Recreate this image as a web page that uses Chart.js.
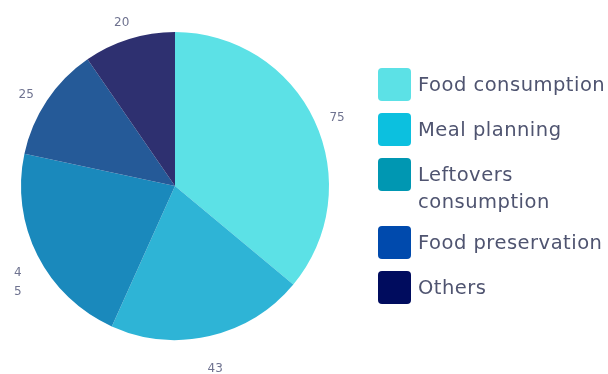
<!DOCTYPE html>
<html>
<head>
<meta charset="utf-8">
<script src="https://cdn.jsdelivr.net/npm/chart.js@4/dist/chart.umd.min.js"></script>
<style>
  html, body { margin: 0; padding: 0; background: #ffffff; }
  #wrap { position: relative; width: 608px; height: 374px; }
</style>
</head>
<body>
<div id="wrap"><canvas id="chart" width="608" height="374"></canvas></div>
<script>
// Share of activities
const categories = ['Food consumption', 'Meal planning', 'Leftovers consumption', 'Food preservation', 'Others'];
const values = [75, 43, 45, 25, 20];
const sliceColors = ['#5ce1e6', '#2eb4d6', '#1a89bc', '#255a98', '#2e3070'];
const legendColors = ['#5ce1e6', '#0cc0df', '#0097b2', '#004aad', '#000c5e'];

const FONT = '"DejaVu Sans", sans-serif';
const TEXT_COLOR = '#4f5470';
const VALUE_COLOR = '#6f7390';

// Value labels just outside each slice
const outsideLabels = {
  id: 'outsideLabels',
  afterDatasetsDraw(chart) {
    const ctx = chart.ctx;
    const meta = chart.getDatasetMeta(0);
    ctx.save();
    ctx.font = '12px ' + FONT;
    ctx.fillStyle = VALUE_COLOR;
    ctx.textAlign = 'center';
    ctx.textBaseline = 'middle';
    meta.data.forEach((arc, i) => {
      const p = arc.getProps(['x', 'y', 'startAngle', 'endAngle', 'outerRadius'], true);
      const mid = (p.startAngle + p.endAngle) / 2;
      const r = p.outerRadius + 25;
      const x = p.x + Math.cos(mid) * r;
      const y = p.y + Math.sin(mid) * r + 8;
      const text = String(values[i]);
      const w = ctx.measureText(text).width;
      if (x - w / 2 < 14) {
        // not enough room at the edge: stack the digits
        const chars = text.split('');
        const lh = 19;
        const x0 = 14 + ctx.measureText(chars[0]).width / 2;
        chars.forEach((c, k) => {
          ctx.fillText(c, x0, y + (k - (chars.length - 1) / 2) * lh + 8);
        });
      } else {
        ctx.fillText(text, x, y);
      }
    });
    ctx.restore();
  }
};

// Legend drawn on the right, wrapping long labels
const sideLegend = {
  id: 'sideLegend',
  afterDraw(chart) {
    const ctx = chart.ctx;
    const items = chart.options.plugins.legend.labels.generateLabels(chart);
    const boxX = 378, box = 33, textX = 418, maxW = 200, lineH = 27, step = 45, extra = 23;
    let y = 68;
    ctx.save();
    ctx.font = '19.5px ' + FONT;
    ctx.letterSpacing = '0.5px';
    ctx.textBaseline = 'middle';
    ctx.textAlign = 'left';
    items.forEach((item, i) => {
      // wrap words into lines
      const words = item.text.split(' ');
      const lines = [];
      let cur = '';
      words.forEach(wd => {
        const t = cur ? cur + ' ' + wd : wd;
        if (ctx.measureText(t).width > maxW && cur) { lines.push(cur); cur = wd; }
        else cur = t;
      });
      lines.push(cur);

      ctx.fillStyle = legendColors[i];
      ctx.beginPath();
      ctx.roundRect(boxX, y, box, box, 4);
      ctx.fill();

      ctx.fillStyle = TEXT_COLOR;
      lines.forEach((ln, k) => {
        ctx.fillText(ln, textX, y + box / 2 + 1 + k * lineH);
      });
      y += step + (lines.length - 1) * extra;
    });
    ctx.restore();
  }
};

new Chart(document.getElementById('chart'), {
  type: 'pie',
  data: {
    labels: categories,
    datasets: [{
      data: values,
      backgroundColor: sliceColors,
      borderWidth: 0,
      hoverOffset: 0
    }]
  },
  options: {
    responsive: false,
    animation: false,
    events: [],
    layout: { padding: { top: 32, bottom: 34, left: 21, right: 279 } },
    plugins: {
      legend: { display: false },
      tooltip: { enabled: false }
    }
  },
  plugins: [outsideLabels, sideLegend]
});
</script>
</body>
</html>
